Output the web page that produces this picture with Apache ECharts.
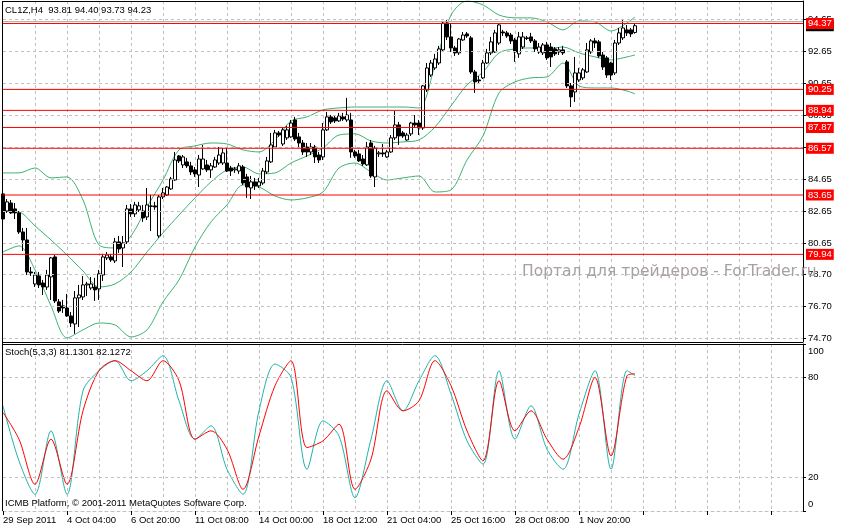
<!DOCTYPE html>
<html><head><meta charset="utf-8">
<script src="https://cdn.jsdelivr.net/npm/echarts@6/dist/echarts.min.js"></script>
<style>html,body{margin:0;padding:0;background:#fff}#c{width:841px;height:528px}</style>
</head><body><div id="c"></div><script>
const tickLabels = ['29 Sep 2011','4 Oct 04:00','6 Oct 20:00','11 Oct 08:00','14 Oct 00:00','18 Oct 12:00','21 Oct 04:00','25 Oct 16:00','28 Oct 08:00','1 Nov 20:00'];
const priceTicks = [74.70,76.70,78.70,80.65,82.65,84.65,86.65,88.65,90.65,92.65,94.65];
const stochTicks = [0,20,80,100];
const stochLevels = [20,80];
const levels = [94.37,90.25,88.94,87.87,86.57,83.65,79.94];
const askLevel = 94.49;
// [open, close, low, high]
const candles = [
[83.72,82.15,81.97,83.90],[82.65,83.22,82.53,83.40],[83.15,82.53,82.47,83.34],[82.78,82.53,82.15,83.15],
[82.53,81.34,81.22,82.65],[81.34,80.84,80.15,81.59],[80.84,78.84,78.65,81.59],[78.84,78.78,78.59,79.15],
[78.09,78.65,77.90,78.84],[78.59,78.03,77.84,78.84],[78.15,77.90,77.40,78.34],[77.90,78.65,77.72,78.97],
[78.53,79.72,77.09,79.78],[79.78,77.03,76.90,79.90],[76.97,76.40,76.28,77.15],[76.72,76.59,76.28,77.09],
[76.59,76.09,76.03,77.47],[76.09,75.65,75.40,76.34],[75.59,77.22,74.97,77.65],[77.22,77.40,75.40,78.03],
[77.28,78.03,77.09,78.59],[78.03,78.09,77.34,78.22],[77.84,78.09,77.72,78.53],[77.90,77.72,77.03,78.47],
[77.78,78.72,77.09,78.97],[78.65,79.78,78.28,79.97],[79.72,79.90,79.59,80.09],[79.78,79.59,79.47,79.97],
[79.53,80.72,79.40,80.97],[80.72,80.28,80.03,81.09],[80.34,80.65,79.15,81.09],[80.72,82.78,80.59,83.03],
[82.78,82.47,82.28,83.09],[82.47,83.03,82.28,83.22],[82.72,82.97,82.59,83.22],[82.65,82.22,81.97,83.03],
[82.28,83.03,82.09,84.09],[82.97,82.94,81.40,83.65],[82.97,82.90,82.72,83.22],[81.09,83.53,80.97,83.65],
[83.53,83.78,83.40,84.09],[83.65,84.15,83.59,84.22],[84.03,84.65,83.97,84.78],[84.59,85.84,84.53,86.34],
[86.09,85.78,85.65,86.15],[85.53,86.03,85.34,86.15],[85.72,85.47,85.34,85.97],[85.47,85.09,84.90,85.72],
[85.22,84.97,84.78,85.40],[84.90,85.90,84.15,86.15],[85.28,85.90,85.22,86.78],[85.53,85.22,85.09,85.84],
[85.22,85.47,84.72,85.65],[85.40,85.84,85.34,86.03],[85.65,86.15,85.53,86.65],[85.65,86.28,85.53,86.59],
[85.65,85.15,85.09,86.59],[85.34,85.15,84.84,85.47],[85.22,85.28,85.03,85.40],[85.15,85.47,84.97,85.65],
[85.40,84.40,84.28,85.53],[84.78,84.15,83.47,84.97],[84.09,84.47,83.40,84.84],[84.47,84.22,83.97,84.72],
[84.22,84.47,84.09,84.72],[84.40,85.15,84.28,85.34],[85.09,85.78,84.97,86.03],[85.72,86.78,85.65,87.53],
[86.65,87.53,86.59,87.72],[87.53,87.40,87.28,87.65],[86.84,87.72,86.72,87.90],[87.22,87.72,87.09,87.97],
[87.28,88.15,87.22,88.34],[88.34,87.15,87.03,88.53],[87.28,86.90,86.65,87.53],[86.90,86.34,86.15,87.09],
[86.65,86.34,86.03,86.90],[86.34,86.65,86.15,86.90],[86.65,86.03,85.65,86.78],[86.15,85.84,85.65,86.34],
[86.03,87.72,85.84,88.15],[87.72,88.53,87.65,88.84],[88.53,88.22,88.09,88.65],[88.47,88.28,88.15,88.59],
[88.28,88.59,88.22,88.78],[88.53,88.40,88.28,88.78],[88.34,88.65,88.22,89.72],[88.34,86.34,85.97,88.78],
[86.34,86.09,85.97,86.47],[86.22,85.78,85.72,86.47],[85.90,85.59,85.47,86.15],[85.53,86.65,85.47,86.97],
[86.90,84.84,84.72,87.09],[84.78,86.59,84.15,86.72],[86.22,86.28,86.03,86.40],[86.28,86.22,86.03,86.84],
[86.03,86.34,85.97,86.47],[86.34,87.22,86.28,87.40],[87.22,88.03,87.09,88.90],[88.03,87.34,86.78,88.22],
[87.53,87.34,87.22,87.65],[87.09,87.40,87.03,87.53],[87.47,88.15,87.34,88.22],[88.15,88.03,87.90,88.65],
[88.15,87.84,87.40,88.34],[87.84,90.47,87.72,90.53],[90.22,91.59,90.09,91.90],[91.15,91.90,91.03,92.09],
[91.59,92.15,91.47,92.47],[91.90,92.78,91.78,92.97],[92.72,94.40,92.59,94.53],[94.40,93.53,93.34,94.59],
[93.53,92.84,92.59,94.40],[92.84,92.53,92.34,92.97],[92.53,93.40,92.40,93.47],[93.34,93.65,93.28,93.84],
[93.72,93.59,93.47,93.84],[93.47,91.34,91.22,93.59],[91.34,90.72,90.03,91.47],[90.84,90.78,90.65,91.09],
[90.97,91.90,90.90,92.09],[91.90,92.53,91.84,92.78],[92.53,93.22,92.40,93.53],[92.59,93.78,92.53,93.97],
[93.15,94.28,93.03,94.34],[93.84,93.78,93.59,93.97],[93.78,93.59,93.47,93.90],[93.65,93.28,93.09,93.78],
[93.34,92.59,91.97,93.47],[92.47,93.53,92.22,93.84],[92.90,93.53,92.78,93.84],[93.47,93.43,93.34,93.59],
[93.53,93.28,93.15,93.78],[93.28,92.78,92.59,93.40],[92.59,92.90,92.47,93.15],[92.53,93.03,92.40,93.15],
[93.03,92.22,92.09,93.22],[92.90,92.28,91.65,93.15],[92.78,92.47,92.34,92.90],[92.59,92.72,92.40,92.90],
[92.72,92.53,92.40,92.97],[91.97,90.47,90.34,92.09],[90.47,89.78,89.15,90.65],[90.09,91.28,89.47,92.28],
[90.84,91.28,90.72,91.59],[90.97,91.47,90.84,91.59],[91.34,92.72,91.28,93.15],[92.59,93.28,92.47,93.40],
[93.28,93.15,92.84,93.47],[93.22,92.34,92.22,93.34],[92.40,91.65,91.47,92.59],[92.22,91.15,90.97,92.34],
[91.90,91.15,90.84,91.97],[91.28,93.15,91.15,93.34],[93.15,93.78,93.03,94.09],[93.47,94.09,93.34,94.59],
[93.97,93.78,93.59,94.28],[93.97,93.72,93.53,94.09],[93.81,94.23,93.73,94.40]
];
const bandIdx = [0,4,8,12,16,20,24,28,32,36,40,44,48,52,56,60,64,68,72,76,80,84,88,92,96,100,104,108,112,116,120,124,128,132,136,140,144,148,152,156,158];
const bbUpper = [85.03,85.03,85.34,84.72,84.78,83.34,80.53,80.34,81.09,82.90,84.59,86.47,86.72,86.90,86.84,86.47,86.34,87.09,88.28,88.53,88.97,89.09,89.15,89.15,89.15,89.15,89.09,91.78,94.90,95.78,95.53,94.90,94.72,94.72,94.47,93.97,94.53,94.47,93.90,94.40,94.78];
const bbMiddle = [82.65,82.59,81.72,80.84,79.90,78.90,77.90,78.09,78.84,80.09,81.28,82.40,83.47,84.47,85.22,85.40,84.97,85.03,85.65,86.09,86.59,87.40,87.47,87.03,86.90,86.97,87.09,87.90,89.22,90.53,91.34,92.53,92.78,92.84,92.78,92.90,92.53,92.28,92.09,92.28,92.40];
const bbLower = [80.09,80.47,78.97,76.72,74.72,75.22,75.65,75.53,74.78,75.22,76.97,78.34,80.40,81.97,83.03,84.28,84.15,83.59,83.34,83.47,83.84,85.34,85.65,85.09,84.59,84.72,84.84,83.84,83.97,85.84,87.34,90.03,90.72,90.97,91.03,91.90,90.47,90.34,90.34,90.15,89.97];
const stochK = [63,30,10,48,10,72,84,90,78,84,93,66,43,51,25,10,60,88,80,25,54,45,8,43,78,60,78,93,70,42,28,84,43,63,37,25,58,84,25,84,81.13];
const stochD = [59,43,16,43,16,60,84,90,84,78,90,78,43,48,37,13,45,75,90,38,42,52,13,31,72,60,66,90,75,48,30,78,48,60,43,31,50,80,33,81,82.13];

const N = 201;
const cats = Array.from({length: N}, (_, i) => String(i));
const FONT = 'Liberation Sans';
const FS = 9.5;
const GRIDC = '#c0c0c0';
const RED = '#ff0000';
const pairs = arr => bandIdx.map((k, j) => [k, arr[j]]);
const last = candles[candles.length - 1];

const chart = echarts.init(document.getElementById('c'), null, {renderer: 'canvas'});
const dash = {color: GRIDC, type: [3, 3], width: 1};
const xBase = (g, showLabels) => ({
  type: 'category', gridIndex: g, data: cats, boundaryGap: false,
  axisLine: {show: showLabels, lineStyle: dash},
  axisTick: {show: showLabels, interval: i => i % 16 === 0, length: 4, lineStyle: {color: '#000'}},
  axisLabel: {show: showLabels, interval: i => i % 16 === 0, align: 'left', margin: 4,
    fontFamily: FONT, fontSize: FS, color: '#000',
    formatter: (v, idx) => tickLabels[idx / 16] || ''},
  splitLine: {show: true, interval: i => i % 8 === 0 && i > 0, lineStyle: dash}
});
const hLine = (name, v, color, width, labelBg, z) => ({
  type: 'line', name: name, xAxisIndex: 0, yAxisIndex: 0, z: z, silent: true,
  data: [[0, v], [N - 1, v]], showSymbol: false, symbol: 'none',
  itemStyle: {color: color}, lineStyle: {color: color, width: width, type: 'solid'},
  endLabel: labelBg ? {show: true, distance: 3, formatter: p => p.value[1].toFixed(2), color: '#fff', backgroundColor: labelBg,
    padding: [1, 2, 0, 2], fontFamily: FONT, fontSize: FS} : {show: false}
});
chart.setOption({
  animation: false,
  backgroundColor: '#fff',
  grid: [
    {left: 3, top: 1, width: 800, height: 341},
    {left: 3, top: 344, width: 800, height: 167}
  ],
  xAxis: [xBase(0, false), xBase(1, true)],
  yAxis: [
    {type: 'value', gridIndex: 0, position: 'right', min: 74.4625, max: 95.775, scale: true,
     axisLine: {show: true, lineStyle: {color: '#000'}},
     axisTick: {show: true, customValues: priceTicks, length: 3, lineStyle: {color: '#000'}},
     axisLabel: {customValues: priceTicks, formatter: v => v.toFixed(2), margin: 5, fontFamily: FONT, fontSize: FS, color: '#000'},
     splitLine: {show: false}},
    {type: 'value', gridIndex: 1, position: 'right', min: 0, max: 100,
     axisLine: {show: true, lineStyle: {color: '#000'}},
     axisTick: {show: true, customValues: stochTicks, length: 3, lineStyle: {color: '#000'}},
     axisLabel: {customValues: stochTicks, margin: 5, fontFamily: FONT, fontSize: FS, color: '#000',
       formatter: v => v === 100 ? '{d|100}' : (v === 0 ? '{u|0}' : String(v)),
       rich: {d: {fontFamily: FONT, fontSize: FS, padding: [14, 0, 0, 0]}, u: {fontFamily: FONT, fontSize: FS, padding: [0, 0, 14, 0]}}},
     splitLine: {show: false}}
  ],
  series: [
    {type: 'line', name: 'bbUpper', xAxisIndex: 0, yAxisIndex: 0, data: pairs(bbUpper), showSymbol: false, smooth: 0.3,
     lineStyle: {color: '#3cb371', width: 1}, silent: true, z: 2,
     markLine: {silent: true, symbol: 'none', label: {show: false}, lineStyle: dash,
       data: priceTicks.map(v => ({yAxis: v}))}},
    {type: 'line', name: 'bbMiddle', xAxisIndex: 0, yAxisIndex: 0, data: pairs(bbMiddle), showSymbol: false, smooth: 0.3,
     lineStyle: {color: '#3cb371', width: 1}, silent: true, z: 2},
    {type: 'line', name: 'bbLower', xAxisIndex: 0, yAxisIndex: 0, data: pairs(bbLower), showSymbol: false, smooth: 0.3,
     lineStyle: {color: '#3cb371', width: 1}, silent: true, z: 2},
    {type: 'candlestick', name: 'CL1Z', xAxisIndex: 0, yAxisIndex: 0, data: candles, barWidth: 3, z: 3,
     itemStyle: {color: '#fff', color0: '#000', borderColor: '#000', borderColor0: '#000', borderWidth: 1}},
    hLine('ask', askLevel, '#b0b0b0', 1, null, 4),
    hLine('bid', last[1], 'rgba(0,0,0,0)', 0, '#000', 4)
  ].concat(levels.map((v, j) => hLine('level' + j, v, RED, 1, RED, 5))).concat([
    {type: 'line', name: 'StochMain', xAxisIndex: 1, yAxisIndex: 1, data: pairs(stochK), showSymbol: false, smooth: 0.3,
     lineStyle: {color: '#20b2aa', width: 1}, silent: true,
     markLine: {silent: true, symbol: 'none', label: {show: false}, lineStyle: dash, data: stochLevels.map(v => ({yAxis: v}))}},
    {type: 'line', name: 'StochSignal', xAxisIndex: 1, yAxisIndex: 1, data: pairs(stochD), showSymbol: false, smooth: 0.3,
     lineStyle: {color: '#ff0000', width: 1}, silent: true}
  ]),
  graphic: [
    {type: 'line', shape: {x1: 2.5, y1: 1, x2: 2.5, y2: 511}, style: {stroke: '#000', lineWidth: 1}, z: 50},
    {type: 'line', shape: {x1: 2, y1: 1.5, x2: 803, y2: 1.5}, style: {stroke: '#000', lineWidth: 1}, z: 50},
    {type: 'line', shape: {x1: 2, y1: 342.5, x2: 803, y2: 342.5}, style: {stroke: '#000', lineWidth: 1}, z: 50},
    {type: 'line', shape: {x1: 2, y1: 344.5, x2: 803, y2: 344.5}, style: {stroke: '#000', lineWidth: 1}, z: 50},
    {type: 'text', left: 5, top: 5, z: 60, style: {text: 'CL1Z,H4  ' + [last[0], last[3], last[2], last[1]].map(v => v.toFixed(2)).join(' '), fontFamily: FONT, fontSize: FS, fill: '#000'}},
    {type: 'text', left: 5, top: 347, z: 60, style: {text: 'Stoch(5,3,3) 81.1301 82.1272', fontFamily: FONT, fontSize: FS, fill: '#000'}},
    {type: 'text', left: 5, top: 498, z: 60, style: {text: 'ICMB Platform, © 2001-2011 MetaQuotes Software Corp.', fontFamily: FONT, fontSize: FS, fill: '#000'}},
    {type: 'text', left: 522, top: 264, z: 60, style: {text: 'Портал для трейдеров - ForTrader.ru', fontFamily: 'DejaVu Sans', fontSize: 15.5, fill: '#a9a1a1'}}
  ]
});
</script></body></html>
